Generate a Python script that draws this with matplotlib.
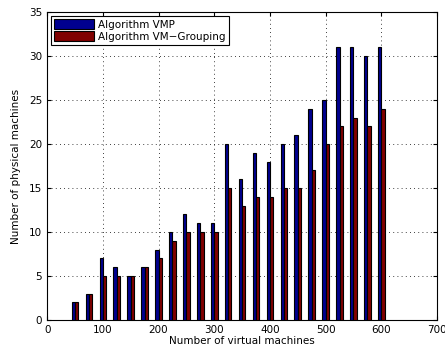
import numpy as np
import matplotlib.pyplot as plt

vms = [50, 75, 100, 125, 150, 175, 200, 225, 250, 275, 300, 325,
       350, 375, 400, 425, 450, 475, 500, 525, 550, 575, 600]
vmp = [2, 3, 7, 6, 5, 6, 8, 10, 12, 11, 11, 20,
       16, 19, 18, 20, 21, 24, 25, 31, 31, 30, 31]
grouping = [2, 3, 5, 5, 5, 6, 7, 9, 10, 10, 10, 15,
            13, 14, 14, 15, 15, 17, 20, 22, 23, 22, 24]

fig = plt.figure(figsize=(4.45, 3.52), dpi=100)
ax = fig.add_axes([0.106, 0.091, 0.876, 0.875])

x = np.array(vms)
w = 6
ax.bar(x - w / 2, vmp, width=w, color='#00008f', edgecolor='black',
       linewidth=0.8, label='Algorithm VMP', zorder=3)
ax.bar(x + w / 2, grouping, width=w, color='#800000', edgecolor='black',
       linewidth=0.8, label='Algorithm VM\u2212Grouping', zorder=3)

ax.set_xlim(0, 700)
ax.set_ylim(0, 35)
ax.set_xticks(range(0, 701, 100))
ax.set_yticks(range(0, 36, 5))
ax.grid(True, linestyle=(0, (1, 4)), color='black', linewidth=0.6)
ax.tick_params(direction='in', labelsize=7.5, length=3, top=True, right=True)
for s in ax.spines.values():
    s.set_linewidth(0.8)
ax.set_xlabel('Number of virtual machines', fontsize=7.5, labelpad=1)
ax.set_ylabel('Number of physical machines', fontsize=7.5, labelpad=6)

leg = ax.legend(loc='upper left', fontsize=7.5, fancybox=False, framealpha=1,
                edgecolor='black', handlelength=3.8, handleheight=1.1,
                borderaxespad=0.4, borderpad=0.3, labelspacing=0.15,
                handletextpad=0.4)
leg.get_frame().set_linewidth(0.8)

fig.savefig('out.png', dpi=100)
